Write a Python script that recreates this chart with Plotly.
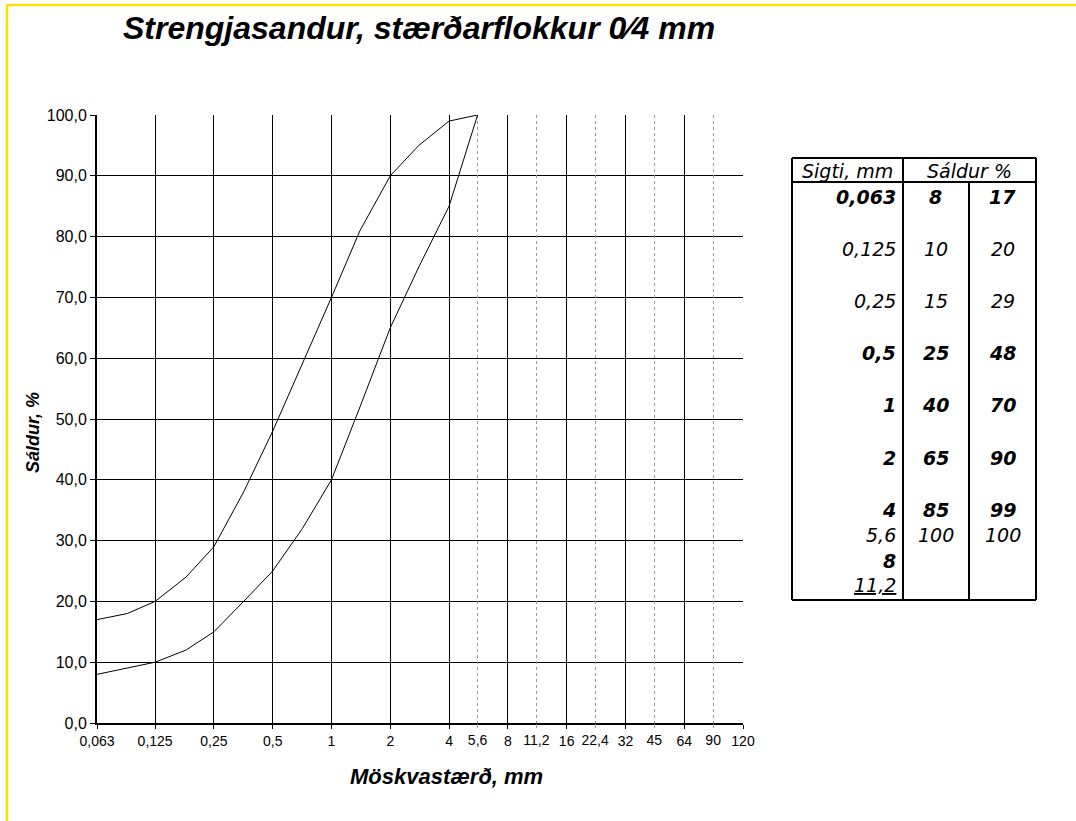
import plotly.graph_objects as go
import numpy as np

# ---------------- data ----------------
title_text = "Strengjasandur, stærðarflokkur 0⁄4 mm"
x_title = "Möskvastærð, mm"
y_title = "Sáldur, %"

sizes = [0.063, 0.09, 0.125, 0.18, 0.25, 0.355, 0.5, 0.71, 1, 1.4, 2, 2.8, 4, 5.6]
lower = [8, 9, 10, 12, 15, 20, 25, 32, 40, 52, 65, 75, 85, 100]
upper = [17, 18, 20, 24, 29, 38, 48, 59, 70, 81, 90, 95, 99, 100]

major_ticks = [0.063, 0.125, 0.25, 0.5, 1, 2, 4, 8, 16, 32, 64, 128]
major_labels = ["0,063", "0,125", "0,25", "0,5", "1", "2", "4", "8", "16", "32", "64", "120"]
minor_ticks = [5.6, 11.2, 22.4, 45, 90]
minor_labels = ["5,6", "11,2", "22,4", "45", "90"]

table_sieves = [0.063, 0.125, 0.25, 0.5, 1, 2, 4, 5.6, 8, 11.2]
table_labels = ["0,063", "0,125", "0,25", "0,5", "1", "2", "4", "5,6", "8", "11,2"]
table_bold = [True, False, False, True, True, True, True, False, True, False]
table_header = ["Sigti, mm", "Sáldur %"]

# ---------------- geometry ----------------
W, H = 1076, 821
L, R, T, B = 97, 743, 115, 723


def px(x):
    return (x - L) / (R - L)


def py(y):
    return (B - y) / (B - T)


fig = go.Figure()
fig.add_trace(go.Scatter(x=sizes, y=lower, mode="lines",
                         line=dict(color="black", width=1), showlegend=False))
fig.add_trace(go.Scatter(x=sizes, y=upper, mode="lines",
                         line=dict(color="black", width=1), showlegend=False))
# helper trace so the secondary (dashed) x axis is drawn
fig.add_trace(go.Scatter(x=minor_ticks, y=[None] * len(minor_ticks), xaxis="x2",
                         mode="lines", showlegend=False, hoverinfo="skip"))

xr = [np.log10(major_ticks[0]), np.log10(major_ticks[-1])]
tick_font = dict(family="Liberation Sans, Arial, sans-serif", size=14, color="black")

fig.update_layout(
    width=W, height=H,
    margin=dict(l=L, r=W - R, t=T, b=H - B),
    paper_bgcolor="white", plot_bgcolor="white",
    separators=", ",
    showlegend=False,
    xaxis=dict(type="log", range=xr, tickvals=major_ticks, ticktext=major_labels,
               showgrid=True, gridcolor="black", gridwidth=1,
               showline=True, linecolor="black", linewidth=2,
               ticks="outside", ticklen=4, tickcolor="black", tickfont=tick_font,
               zeroline=False),
    xaxis2=dict(type="log", range=xr, overlaying="x", anchor="y", side="bottom",
                tickvals=minor_ticks, ticktext=minor_labels,
                showgrid=True, gridcolor="#9a9a9a", gridwidth=1, griddash="dot",
                showline=False, ticks="outside", ticklen=4, tickcolor="#9a9a9a",
                tickfont=tick_font, zeroline=False),
    yaxis=dict(range=[0, 100], dtick=10, tickformat=".1f",
               showgrid=True, gridcolor="black", gridwidth=1,
               showline=True, linecolor="black", linewidth=2,
               ticks="outside", ticklen=5, tickcolor="black",
               tickfont=dict(family="Liberation Sans, Arial, sans-serif", size=16, color="black"),
               zeroline=False),
)

shapes = []
annotations = []

# yellow frame
shapes.append(dict(type="line", xref="paper", yref="paper",
                   x0=px(7), x1=px(7), y0=py(5), y1=py(H),
                   line=dict(color="#FFE000", width=2.5)))
shapes.append(dict(type="line", xref="paper", yref="paper",
                   x0=px(6), x1=px(W), y0=py(5), y1=py(5),
                   line=dict(color="#FFE000", width=2.5)))

# title and axis titles
bi = dict(weight="bold", style="italic", color="black")
annotations.append(dict(text=title_text, xref="paper", yref="paper",
                        x=px(419), y=py(28), xanchor="center", yanchor="middle",
                        showarrow=False,
                        font=dict(family="Liberation Sans, Arial, sans-serif", size=32, **bi)))
annotations.append(dict(text=x_title, xref="paper", yref="paper",
                        x=px(446), y=py(776), xanchor="center", yanchor="middle",
                        showarrow=False,
                        font=dict(family="Liberation Sans, Arial, sans-serif", size=22, **bi)))
annotations.append(dict(text=y_title, xref="paper", yref="paper",
                        x=px(33), y=py(433), xanchor="center", yanchor="middle",
                        textangle=-90, showarrow=False,
                        font=dict(family="Liberation Sans, Arial, sans-serif", size=18, **bi)))

# ---------------- table ----------------
tL, tC1, tC2, tR = 792, 903, 969, 1036
tTop, tHead, tBot = 158, 182, 600
tl = dict(color="black", width=2)


def hline(x0, x1, y):
    shapes.append(dict(type="line", xref="paper", yref="paper",
                       x0=px(x0), x1=px(x1), y0=py(y), y1=py(y), line=tl))


def vline(x, y0, y1):
    shapes.append(dict(type="line", xref="paper", yref="paper",
                       x0=px(x), x1=px(x), y0=py(y0), y1=py(y1), line=tl))


hline(tL, tR, tTop)
hline(tL, tR, tHead)
hline(tL, tR, tBot)
vline(tL, tTop, tBot)
vline(tR, tTop, tBot)
vline(tC1, tTop, tBot)
vline(tC2, tHead, tBot)

tfam = "DejaVu Sans, Verdana, sans-serif"
tsize = 19


def tcell(text, x, y, anchor, bold):
    annotations.append(dict(text=text, xref="paper", yref="paper",
                            x=px(x), y=py(y), xanchor=anchor, yanchor="middle",
                            showarrow=False,
                            font=dict(family=tfam, size=tsize, color="black",
                                      style="italic",
                                      weight="bold" if bold else "normal")))


tcell(table_header[0], (tL + tC1) / 2, 171, "center", False)
tcell(table_header[1], (tC1 + tR) / 2, 171, "center", False)

low_map = dict(zip(sizes, lower))
up_map = dict(zip(sizes, upper))
row_y = [197, 249, 301, 353, 405, 458, 510, 535, 561, 585]
for i, s in enumerate(table_sieves):
    lab = table_labels[i]
    if i == len(table_sieves) - 1:
        lab = '<span style="text-decoration:underline">' + lab + "</span>"
    tcell(lab, tC1 - 5, row_y[i], "right", table_bold[i])
    if s in low_map:
        tcell(str(low_map[s]), (tC1 + tC2) / 2, row_y[i], "center", table_bold[i])
        tcell(str(up_map[s]), (tC2 + tR) / 2, row_y[i], "center", table_bold[i])

fig.update_layout(shapes=shapes, annotations=annotations)
fig.write_html("out.html", config={"displayModeBar": False},
               post_script="document.body.style.margin='0';")
